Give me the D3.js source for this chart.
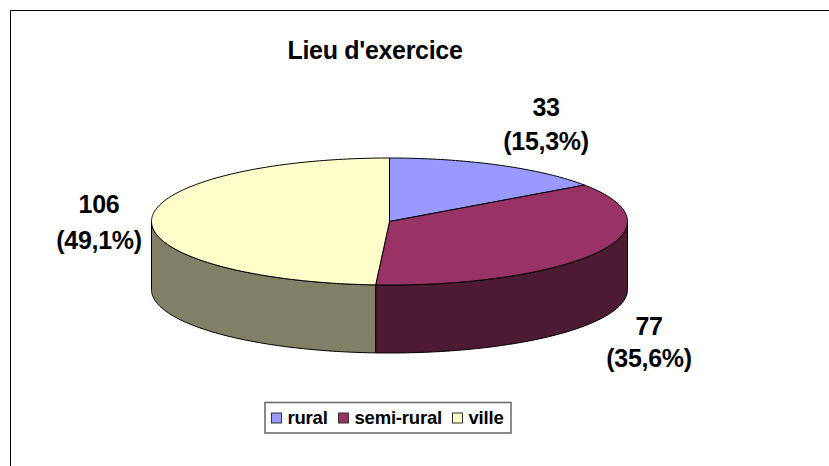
<!DOCTYPE html>
<html>
<head>
<meta charset="utf-8">
<script src="https://cdn.jsdelivr.net/npm/d3@7"></script>
<style>
html, body { margin: 0; padding: 0; background: #fff; }
text { font-family: "Liberation Sans", Arial, sans-serif; font-weight: bold; fill: #000; }
</style>
</head>
<body>
<div id="chart"></div>
<script>
var w = 829;
var h = 466;

// Values
var categories = ["rural", "semi-rural", "ville"];
var values = [33, 77, 106];
var percents = ["15,3%", "35,6%", "49,1%"];
var topColors = ["#9999ff", "#993366", "#ffffcc"];
var sideColors = ["#4d4d80", "#4d1a33", "#808066"];

var svg = d3.select("#chart")
    .append("svg")
    .attr("width", w)
    .attr("height", h)
    .style("display", "block");

// Chart frame, only top and left show in the crop
svg.append("path")
    .attr("d", "M829,10.5H10.5V466")
    .attr("fill", "none")
    .attr("stroke", "#000")
    .attr("stroke-width", 1);

svg.append("text")
    .attr("x", 375)
    .attr("y", 59)
    .attr("text-anchor", "middle")
    .style("font-size", "25px")
    .style("letter-spacing", "-0.3px")
    .text("Lieu d'exercice");

// Pie tilted into an ellipse
var cx = 389.5;
var cy = 221.5;
var rx = 238;
var ry = 63.5;
var depth = 68;

var color = d3.scaleOrdinal().domain(categories).range(topColors);
var sideColor = d3.scaleOrdinal().domain(categories).range(sideColors);

var pie = d3.pie().sort(null).value(function (d, i) { return values[i]; });
var slices = pie(categories);

function px(a) { return cx + rx * Math.sin(a); }
function py(a) { return cy - ry * Math.cos(a); }

function arcAngles(a0, a1) {
    var n = Math.max(2, Math.ceil((a1 - a0) * 60));
    return d3.range(n + 1).map(function (i) { return a0 + (a1 - a0) * i / n; });
}

var line = d3.line();

// Side walls first (only the front half of the ellipse is visible)
slices.forEach(function (s) {
    var a0 = Math.max(s.startAngle, Math.PI / 2);
    var a1 = Math.min(s.endAngle, Math.PI * 1.5);
    if (a1 <= a0) return;
    var angles = arcAngles(a0, a1);
    var upper = angles.map(function (a) { return [px(a), py(a)]; });
    var lower = angles.slice().reverse().map(function (a) { return [px(a), py(a) + depth]; });
    svg.append("path")
        .attr("d", line(upper.concat(lower)) + "Z")
        .attr("fill", sideColor(s.data))
        .attr("stroke", "#000")
        .attr("stroke-width", 1)
        .attr("stroke-linejoin", "round");
});

// Top faces
slices.forEach(function (s) {
    var pts = arcAngles(s.startAngle, s.endAngle).map(function (a) { return [px(a), py(a)]; });
    svg.append("path")
        .attr("d", line([[cx, cy]].concat(pts)) + "Z")
        .attr("fill", color(s.data))
        .attr("stroke", "#000")
        .attr("stroke-width", 1)
        .attr("stroke-linejoin", "round");
});

// Data labels
var labelPos = [[546, 116, 150], [649, 335, 367], [99, 213, 249]];
slices.forEach(function (s, i) {
    var g = svg.append("g").attr("text-anchor", "middle").style("font-size", "25px").style("letter-spacing", "-0.3px");
    g.append("text").attr("x", labelPos[i][0]).attr("y", labelPos[i][1]).text(values[i]);
    g.append("text").attr("x", labelPos[i][0]).attr("y", labelPos[i][2]).text("(" + percents[i] + ")");
});

// Legend
svg.append("rect")
    .attr("x", 265)
    .attr("y", 402.5)
    .attr("width", 246)
    .attr("height", 30.5)
    .attr("fill", "#fff")
    .attr("stroke", "#666")
    .attr("stroke-width", 1.5);

var legendX = [271.5, 338.5, 452.5];
var legend = svg.selectAll(".legend")
    .data(categories)
    .enter()
    .append("g")
    .attr("class", "legend")
    .attr("transform", function (d, i) { return "translate(" + legendX[i] + ",413)"; });

legend.append("rect")
    .attr("width", 10)
    .attr("height", 10)
    .attr("fill", color)
    .attr("stroke", "#333")
    .attr("stroke-width", 1);

legend.append("text")
    .attr("x", 16)
    .attr("y", 11)
    .style("font-size", "18.5px")
    .style("letter-spacing", "-0.2px")
    .text(function (d) { return d; });
</script>
</body>
</html>
